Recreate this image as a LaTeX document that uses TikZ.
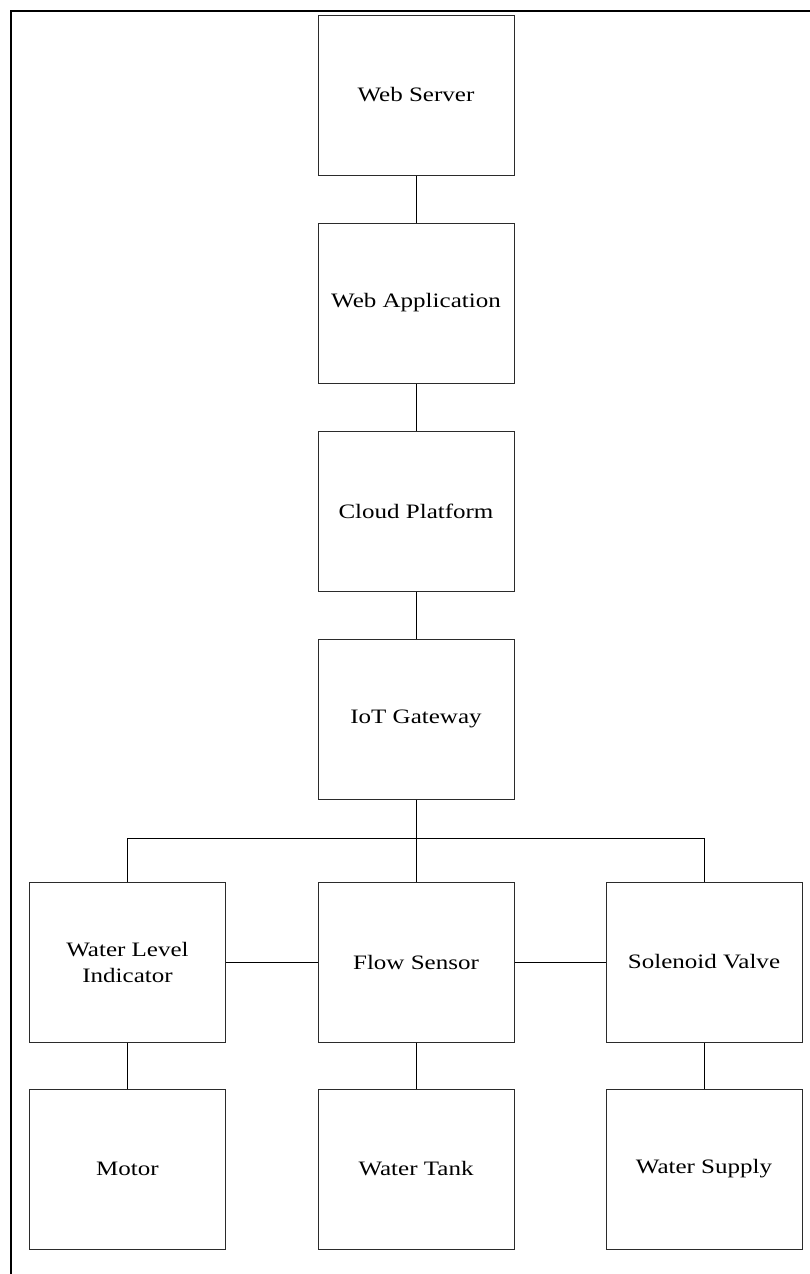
\documentclass[tikz,border=0pt]{standalone}
\usepackage{fontspec}
\setmainfont{Liberation Serif}
\newfontfamily\blockfont[FakeStretch=1.22]{Liberation Serif}
\usepackage{xcolor}
\usepackage{tikz}

\definecolor{BoxLine}{HTML}{2B2B2B}

\tikzset{
  block/.style={draw=BoxLine,line width=1pt,fill=white,minimum width=196pt,
    minimum height=160pt,inner sep=0pt,align=center,
    font=\blockfont\fontsize{20.5}{26}\selectfont},
  link/.style={draw=black,line width=1pt}
}

\begin{document}
\begin{tikzpicture}[x=1pt,y=-1pt]
  \useasboundingbox (0,0) rectangle (810,1274);

  % Frame
  \draw[line width=2pt] (11,1274) -- (11,11) -- (810,11);

  % Cloud side
  \node[block] (server) at (416,95) {Web Server};
  \node[block] (webapp) at (416,303) {Web Application};
  \node[block] (cloud) at (416,511) {Cloud Platform};
  \node[block] (gateway) at (416,719) {IoT Gateway};

  % Sensors and actuators
  \node[block] (level) at (127.5,962) {Water Level\\Indicator};
  \node[block] (flow) at (416,962) {Flow Sensor};
  \node[block] (valve) at (704,962) {Solenoid Valve};

  % Plant
  \node[block] (motor) at (127.5,1169) {Motor};
  \node[block] (tank) at (416,1169) {Water Tank};
  \node[block] (supply) at (704,1169) {Water Supply};

  % Bus below the gateway
  \coordinate (bus) at (416,838);

  \draw[link] (server) -- (webapp);
  \draw[link] (webapp) -- (cloud);
  \draw[link] (cloud) -- (gateway);
  \draw[link] (gateway) -- (flow);
  \draw[link] (level.north) -- (level.north |- bus) -- (valve.north |- bus)
    -- (valve.north);

  \draw[link] (level) -- (flow);
  \draw[link] (flow) -- (valve);

  \draw[link] (level) -- (motor);
  \draw[link] (flow) -- (tank);
  \draw[link] (valve) -- (supply);
\end{tikzpicture}
\end{document}
